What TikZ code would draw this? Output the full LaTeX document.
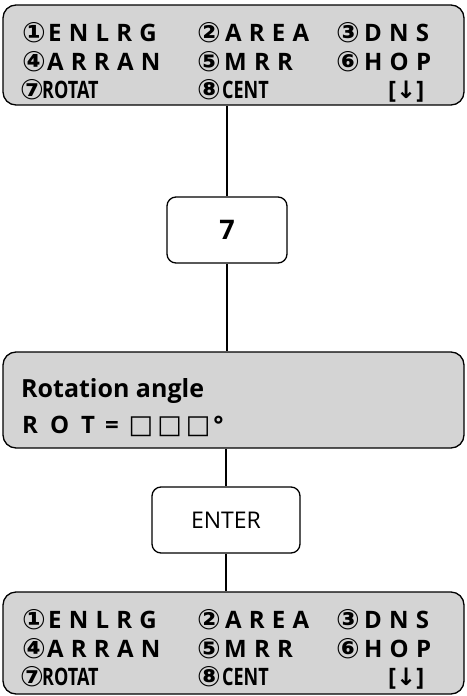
\documentclass[tikz,border=0pt]{standalone}
\usepackage{fontspec}
\setmainfont{Open Sans}
\newfontfamily\symfont{DejaVu Sans}
\newfontfamily\lcdwide[LetterSpace=30]{Open Sans}
\usetikzlibrary{positioning}
\definecolor{lcdgray}{RGB}{212,212,212}
\newcommand\circnum[1]{{\symfont\fontsize{28}{28}\selectfont #1}}

% one menu screen, #1 = prefix of the node names
\newcommand\menurows[1]{%
\node[txt] (#1n1) at (22,42) {\circnum{①}};
\node[txt] (#1w1) at (48,41) {\lcdwide ENLRG};
\node[txt] (#1n2) at (197,42) {\circnum{②}};
\node[txt] (#1w2) at (225,41) {\lcdwide AREA};
\node[txt] (#1n3) at (336,42) {\circnum{③}};
\node[txt] (#1w3) at (364,41) {\lcdwide DNS};
\node[txt] (#1n4) at (22,71) {\circnum{④}};
\node[txt] (#1w4) at (47,70) {\lcdwide ARRAN};
\node[txt] (#1n5) at (197,71) {\circnum{⑤}};
\node[txt] (#1w5) at (224,70) {\lcdwide MRR};
\node[txt] (#1n6) at (336,71) {\circnum{⑥}};
\node[txt] (#1w6) at (364,70) {\lcdwide HOP};
\node[txt] (#1n7) at (20,99) {\circnum{⑦}};
\node[txt] (#1w7) at (42,98) {\scalebox{0.75}[1]{ROTAT}};
\node[txt] (#1n8) at (197,99) {\circnum{⑧}};
\node[txt] (#1w8) at (222,98) {\scalebox{0.75}[1]{CENT}};
\node[txt] (#1dn) at (388,98) {[{\symfont\bfseries ↓}]};
}

\begin{document}
\begin{tikzpicture}[x=1pt, y=-1pt,
lcd/.style={draw, line width=1.3pt, rounded corners=13pt, fill=lcdgray,
minimum width=461pt, inner sep=0pt},
keybox/.style={draw, line width=1.3pt, rounded corners=9pt, fill=white,
minimum height=66pt, inner sep=0pt},
link/.style={line width=1.1pt},
txt/.style={anchor=base west, inner sep=0pt,
font=\fontsize{24}{24}\selectfont\bfseries}
]
\useasboundingbox (0,0) rectangle (466,696);

\node[lcd, minimum height=100pt] (menuA) at (233.5,55) {};
\node[keybox, minimum width=120pt] (key7) at (227,230)
{\fontsize{27}{27}\selectfont\bfseries 7};
\node[lcd, minimum height=96pt] (rotdisp) at (233.5,400) {};
\node[keybox, minimum width=148pt] (enterkey) at (226,520)
{\fontsize{23}{23}\selectfont ENTER};
\node[lcd, minimum height=102pt] (menuB) at (233.5,643) {};

\draw[link] (key7 |- menuA.south) -- (key7.north);
\draw[link] (key7.south) -- (key7 |- rotdisp.north);
\draw[link] (enterkey |- rotdisp.south) -- (enterkey.north);
\draw[link] (enterkey.south) -- (enterkey |- menuB.north);

\menurows{ma}

\node[txt, font=\fontsize{25}{25}\selectfont\bfseries] (rottitle) at (21,397)
{Rotation angle};
\node[txt] (rotvalue) at (22,433)
{R\hspace{12pt}O\hspace{12pt}T\hspace{10pt}=\hspace{10pt}%
{\symfont\fontsize{26}{26}\selectfont □\hspace{4pt}□\hspace{4pt}□}\hspace{3pt}°};

\begin{scope}[yshift=-587pt]
\menurows{mb}
\end{scope}

\end{tikzpicture}
\end{document}
